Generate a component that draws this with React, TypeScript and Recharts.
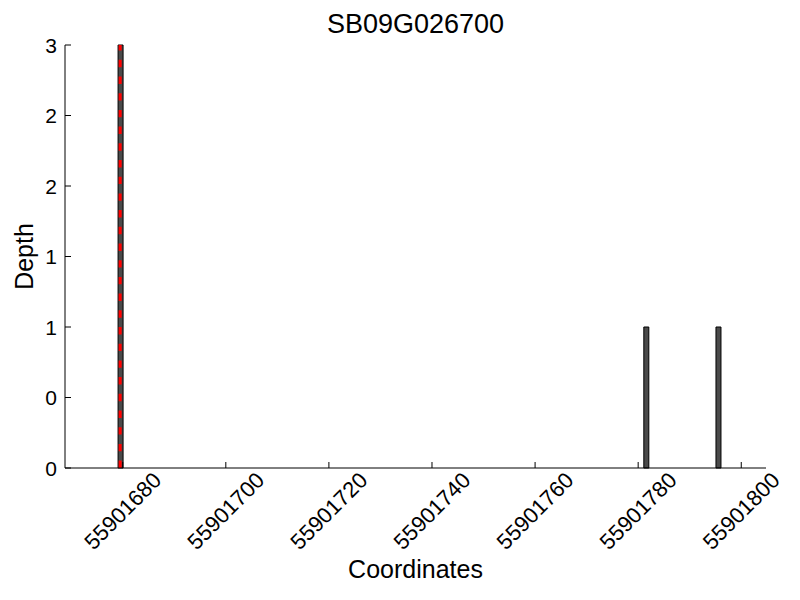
import { Bar, ComposedChart, Label, ReferenceLine, XAxis, YAxis } from "recharts";

// bin start coordinates and their read depths
const positions = [55901679, 55901781, 55901795];
const depths = [3, 1, 1];
// the highlighted position (red dashed marker)
const highlightStart = 55901679;

const xTicks = [55901680, 55901700, 55901720, 55901740, 55901760, 55901780, 55901800];
const yTicks = [0, 0.5, 1, 1.5, 2, 2.5, 3];
const xDomain = [55901668.8, 55901804.8];

const data = positions.map((p, i) => ({ mid: p + 0.5, depth: depths[i] }));

const FONT = "'Liberation Sans', Arial, sans-serif";

function XTick({ x, y, payload }: any) {
  return (
    <g>
      <line x1={x} y1={y} x2={x} y2={y - 6} stroke="#000" />
      <text
        x={x}
        y={y + 43}
        transform={`rotate(-45 ${x} ${y + 43})`}
        textAnchor="middle"
        dominantBaseline="central"
        fontSize={22}
        fontFamily={FONT}
        fill="#000"
      >
        {payload.value}
      </text>
    </g>
  );
}

function YTick({ x, y, payload }: any) {
  return (
    <g>
      <line x1={x} y1={y} x2={x + 6} y2={y} stroke="#000" />
      <text
        x={x - 8}
        y={y}
        textAnchor="end"
        dominantBaseline="central"
        fontSize={21}
        fontFamily={FONT}
        fill="#000"
      >
        {Math.floor(payload.value)}
      </text>
    </g>
  );
}

export default function App() {
  return (
    <div style={{ position: "absolute", left: 0, top: 0, width: 800, height: 600, background: "#fff" }}>
      <div
        style={{
          position: "absolute",
          left: 65,
          width: 701,
          top: 11,
          textAlign: "center",
          fontFamily: FONT,
          fontSize: 27,
          lineHeight: "27px",
          color: "#000",
        }}
      >
        SB09G026700
      </div>
      <ComposedChart
        width={800}
        height={600}
        data={data}
        margin={{ top: 45, right: 34, bottom: 0, left: 0 }}
      >
        <XAxis
          dataKey="mid"
          type="number"
          domain={xDomain}
          ticks={xTicks}
          allowDataOverflow
          height={132}
          tickSize={0}
          tickMargin={0}
          tick={<XTick />}
          stroke="#000"
          interval={0}
        >
          <Label
            value="Coordinates"
            position="insideBottom"
            offset={22}
            fontSize={25}
            fontFamily={FONT}
            fill="#000"
          />
        </XAxis>
        <YAxis
          type="number"
          domain={[0, 3]}
          ticks={yTicks}
          width={65}
          tickSize={0}
          tickMargin={0}
          tick={<YTick />}
          stroke="#000"
          interval={0}
        >
          <Label
            value="Depth"
            angle={-90}
            position="insideLeft"
            offset={24}
            fontSize={25}
            fontFamily={FONT}
            fill="#000"
            style={{ textAnchor: "middle" }}
          />
        </YAxis>
        <Bar dataKey="depth" barSize={5} fill="#4a4a4a" stroke="#000" strokeWidth={1} isAnimationActive={false} />
        <ReferenceLine
          x={highlightStart + 0.5}
          stroke="#ff0000"
          strokeWidth={3}
          strokeDasharray="7.4 9.3"
        />
      </ComposedChart>
    </div>
  );
}
